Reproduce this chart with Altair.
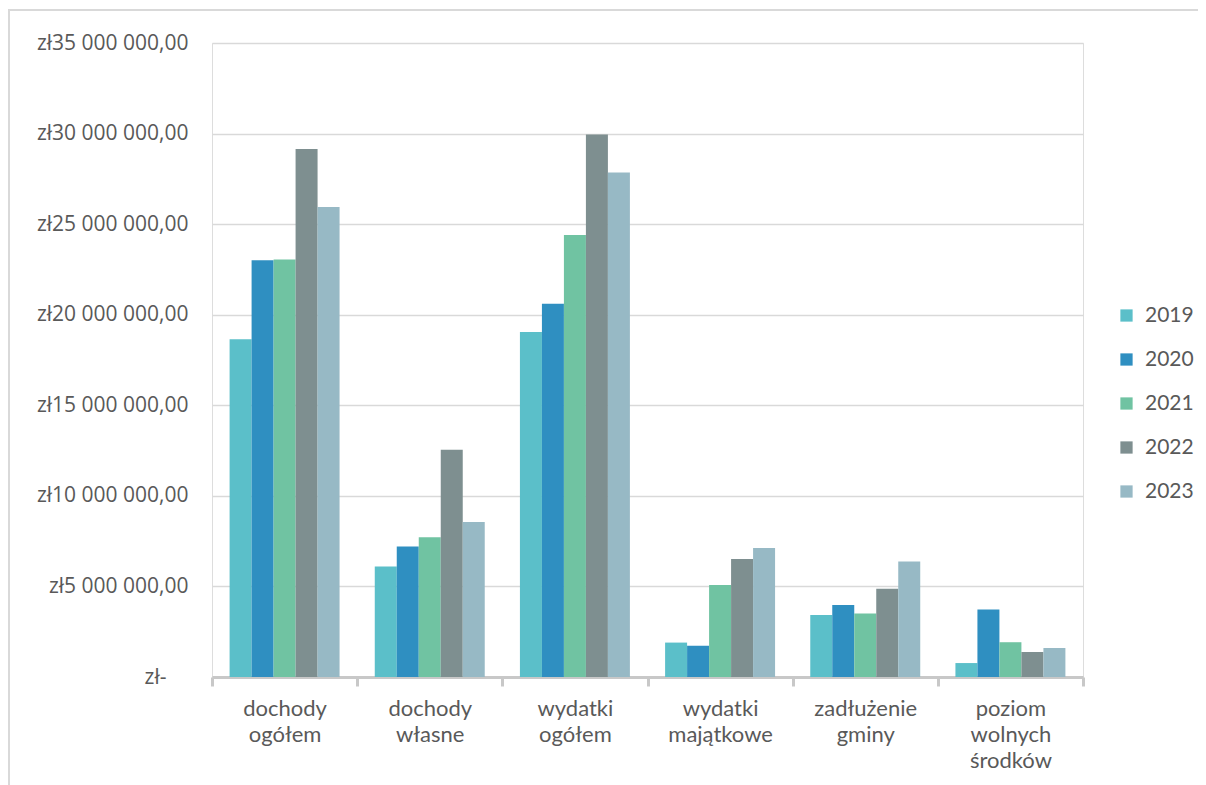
import altair as alt
import pandas as pd

categories = ["dochody ogółem", "dochody własne", "wydatki ogółem",
              "wydatki majątkowe", "zadłużenie gminy", "poziom wolnych środków"]
years = ["2019", "2020", "2021", "2022", "2023"]
colors = ["#5bbfc9", "#2f8fc1", "#70c3a2", "#7e8f90", "#97b9c5"]

v2019 = [18.65e6, 6.10e6, 19.05e6, 1.90e6, 3.42e6, 0.77e6]
v2020 = [23.00e6, 7.20e6, 20.60e6, 1.72e6, 3.97e6, 3.73e6]
v2021 = [23.05e6, 7.72e6, 24.40e6, 5.08e6, 3.50e6, 1.92e6]
v2022 = [29.15e6, 12.55e6, 29.95e6, 6.52e6, 4.87e6, 1.38e6]
v2023 = [25.95e6, 8.55e6, 27.85e6, 7.12e6, 6.37e6, 1.60e6]

series = dict(zip(years, [v2019, v2020, v2021, v2022, v2023]))
rows = []
for y, vals in series.items():
    for c, v in zip(categories, vals):
        rows.append({"kategoria": c, "rok": y, "wartosc": v})
df = pd.DataFrame(rows)

TXT = "#595959"

bars = alt.Chart(df).mark_bar().encode(
    x=alt.X("kategoria:N", sort=categories,
            scale=alt.Scale(paddingInner=0, paddingOuter=0),
            axis=alt.Axis(title=None, labelAngle=0, labelExpr="split(datum.label, ' ')",
                          labelFont="Lato", labelFontSize=22, labelColor=TXT,
                          labelPadding=12, labelLineHeight=26,
                          domainColor="#c8c8c8", domainWidth=3,
                          tickColor="#c8c8c8", tickWidth=3, tickSize=9,
                          tickBand="extent", grid=False)),
    xOffset=alt.XOffset("rok:N", sort=years, scale=alt.Scale(paddingInner=0, paddingOuter=0.8)),
    y=alt.Y("wartosc:Q", scale=alt.Scale(domain=[0, 35e6], nice=False),
            axis=alt.Axis(title=None, values=[0, 5e6, 10e6, 15e6, 20e6, 25e6, 30e6, 35e6],
                          labelExpr="datum.value == 0 ? 'zł-' : 'zł' + (datum.value/1000000) + ' 000 000,00'",
                          labelFont="Open Sans", labelFontSize=21, labelColor=TXT,
                          labelPadding={"condition": {"test": "datum.value == 0", "value": 46}, "value": 24},
                          domain=False, ticks=False,
                          gridColor="#d9d9d9", gridWidth=1.5)),
    color=alt.Color("rok:N", sort=years, scale=alt.Scale(domain=years, range=colors),
                    legend=alt.Legend(title=None, orient="none", legendX=904, legendY=262,
                                      symbolType="square", symbolSize=150,
                                      symbolStrokeWidth=0, rowPadding=22,
                                      labelFont="Lato", labelFontSize=21, labelColor=TXT,
                                      labelOffset=8)),
)

frame = alt.Chart(df).mark_rect(fill=None, stroke="#d9d9d9", strokeWidth=1.5).encode(
    x=alt.value(-203), x2=alt.value(1000), y=alt.value(-33), y2=alt.value(800)
)

chart = alt.layer(frame, bars).properties(
    width=871, height=634,
    padding={"left": 204, "top": 35, "right": 115, "bottom": 115},
    autosize=alt.AutoSizeParams(type="none"),
).configure_view(stroke=None).configure(background="white")

chart.save("out.html", embed_options={"renderer": "svg", "actions": False})
